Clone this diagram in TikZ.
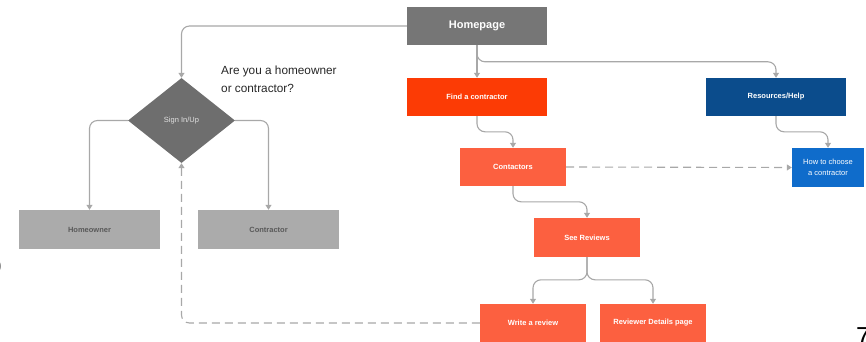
\documentclass[tikz,border=0pt]{standalone}
\usepackage{fontspec}
\setmainfont{Liberation Sans}
\usetikzlibrary{arrows.meta,shapes.geometric}
\definecolor{cHome}{HTML}{767676}
\definecolor{cFind}{HTML}{FC3B05}
\definecolor{cRes}{HTML}{0B4C8C}
\definecolor{cCoral}{HTML}{FC6040}
\definecolor{cHow}{HTML}{0F6CCB}
\definecolor{cLight}{HTML}{ABABAB}
\definecolor{cDia}{HTML}{6E6E6E}
\definecolor{cLine}{HTML}{A8A8A8}
\tikzset{
  box/.style={rectangle, draw=none, inner sep=0pt, text=white, font=\bfseries\fontsize{7.5}{9}\selectfont, align=center},
  conn/.style={draw=cLine, line width=1.1pt, rounded corners=8pt, -{Triangle[width=6pt,length=5pt]}},
  dconn/.style={conn, dash pattern=on 8pt off 5pt},
}
\begin{document}
\begin{tikzpicture}[x=1pt,y=-1pt]
\useasboundingbox (0,0) rectangle (866,342);
\clip (0,0) rectangle (866,342);
% nodes
\node[box, fill=cHome, minimum width=140pt, minimum height=38pt, font=\bfseries\fontsize{11}{13}\selectfont] (home) at (477,26) {Homepage};
\node[box, fill=cFind, minimum width=140pt, minimum height=38pt] (find) at (477,97) {Find a contractor};
\node[box, fill=cRes, minimum width=140pt, minimum height=38pt] (res) at (776,97) {Resources/Help};
\node[box, fill=cCoral, minimum width=106pt, minimum height=38pt] (cont) at (513,167) {Contactors};
\node[box, fill=cHow, minimum width=72pt, minimum height=39pt, font=\fontsize{7.5}{11}\selectfont] (how) at (828,167.5) {How to choose\\a contractor};
\node[box, fill=cCoral, minimum width=106pt, minimum height=39pt] (see) at (587,237.5) {See Reviews};
\node[box, fill=cCoral, minimum width=106pt, minimum height=38pt] (write) at (533,323) {Write a review};
\node[box, fill=cCoral, minimum width=106pt, minimum height=38pt] (revd) at (653,323) {Reviewer Details page};
\node[diamond, fill=cDia, inner sep=0pt, minimum width=107pt, minimum height=85pt, text=white!80!cDia, font=\fontsize{7.5}{9}\selectfont] (sign) at (181.5,120.5) {Sign In/Up};
\node[box, fill=cLight, minimum width=141pt, minimum height=39pt, text=black!65] (howner) at (89.5,229.5) {Homeowner};
\node[box, fill=cLight, minimum width=141pt, minimum height=39pt, text=black!65] (contr) at (268.5,229.5) {Contractor};
\node[anchor=north west, inner sep=0pt, align=left, text=black!85, font=\fontsize{11.8}{18}\selectfont] (q) at (221,66) {Are you a homeowner\\or contractor?};
\node[anchor=north west, inner sep=0pt, font=\fontsize{26}{28}\selectfont, text=black] (seven) at (856,327) {7};
\node[anchor=east, inner sep=0pt, font=\fontsize{11}{13}\selectfont, text=black!45] (paren) at (2,267) {)};
% connectors
\draw[conn] (home.west) -| (sign.north);
\draw[conn] (sign.west) -| (howner.north);
\draw[conn] (sign.east) -| (contr.north);
\draw[conn] (home.south) -- (find.north);
\draw[conn] (home.south) |- ([yshift=16pt]res.north) -- (res.north);
\draw[conn] (find.south) |- ([yshift=16pt]cont.north) -- (cont.north);
\draw[conn] (res.south) |- ([yshift=16pt]how.north) -- (how.north);
\draw[dconn] (cont.east) -- (how.west);
\draw[conn] (cont.south) |- ([yshift=16pt]see.north) -- (see.north);
\draw[conn] (see.south) |- ([yshift=24pt]write.north) -- (write.north);
\draw[conn] (see.south) |- ([yshift=24pt]revd.north) -- (revd.north);
\draw[dconn] (write.west) -| (sign.south);
\end{tikzpicture}
\end{document}
